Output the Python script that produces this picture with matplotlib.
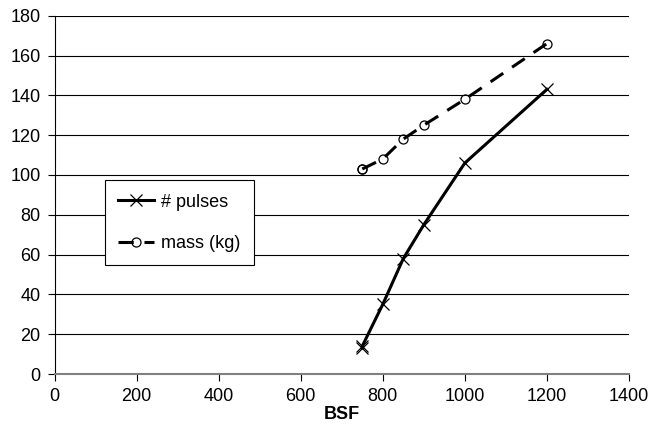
import matplotlib
matplotlib.use("Agg")
import matplotlib.pyplot as plt

plt.rcParams['font.family'] = ['Liberation Sans', 'DejaVu Sans']

# BSF sweep results
bsf = [750, 750, 800, 850, 900, 1000, 1200]
pulses = [13, 14, 35, 58, 75, 106, 143]
mass_kg = [103, 103, 108, 118, 125, 138, 166]

fs = 13

fig = plt.figure(figsize=(6.53, 4.36), dpi=100)
ax = fig.add_axes([0.0835, 0.1422, 0.8797, 0.8218])

ax.plot(bsf, pulses, color='black', linewidth=2.2, marker='x', markersize=8,
        markeredgewidth=0.9, label='# pulses')
ax.plot(bsf, mass_kg, color='black', linewidth=2.2, linestyle=(0, (5, 3.5)),
        marker='o', markersize=6.5, markerfacecolor='none', markeredgewidth=0.9,
        label='mass (kg)')

ax.set_xlim(0, 1400)
ax.set_ylim(0, 180)
ax.set_xticks(range(0, 1401, 200))
ax.set_yticks(range(0, 181, 20))
ax.grid(axis='y', color='black', linewidth=0.8)
ax.set_axisbelow(True)
for side in ['top', 'right']:
    ax.spines[side].set_visible(False)
ax.spines['left'].set_color('black')
ax.spines['bottom'].set_color('#808080')
ax.spines['bottom'].set_linewidth(1.5)
ax.tick_params(direction='out', length=5, width=0.8, labelsize=fs, pad=5)
ax.set_xlabel('BSF', fontsize=fs, fontweight='bold', labelpad=1)

leg = ax.legend(loc='lower left', bbox_to_anchor=(0.087, 0.303), borderaxespad=0,
                fontsize=fs, fancybox=False, framealpha=1, edgecolor='black',
                labelspacing=1.35, handlelength=2.0, handletextpad=0.4,
                borderpad=0.75)
leg.get_frame().set_linewidth(0.8)

fig.savefig('out.png', dpi=100)
